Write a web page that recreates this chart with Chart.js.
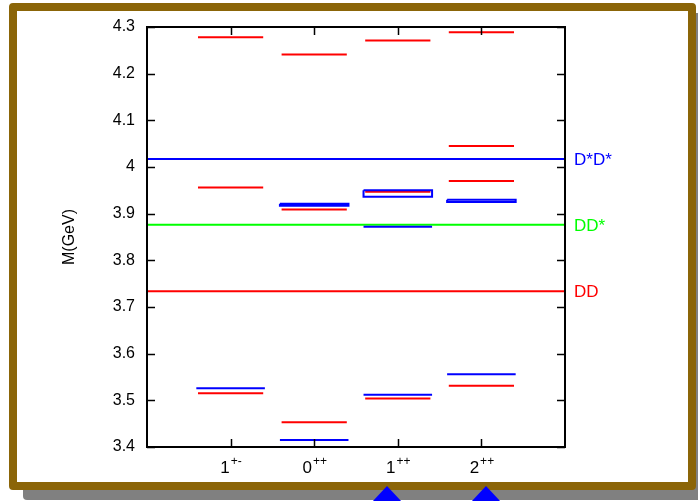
<!DOCTYPE html>
<html>
<head>
<meta charset="utf-8">
<script src="https://cdn.jsdelivr.net/npm/chart.js@4.4.0/dist/chart.umd.min.js"></script>
<style>
  html, body { margin: 0; padding: 0; background: #ffffff; overflow: hidden; }
  #frame {
    position: absolute; left: 9px; top: 3px; width: 687px; height: 487px;
    box-sizing: border-box; border: 8px solid #8b6508; border-radius: 4px;
    background: #ffffff; box-shadow: 14px 10px 0 #808080;
  }
  #chart { position: absolute; left: 0; top: 0; z-index: 1; }
  .tri {
    position: absolute; top: 486px; width: 0; height: 0; z-index: 2;
    border-left: 15px solid transparent; border-right: 15px solid transparent;
    border-bottom: 16px solid #0000ff;
  }
</style>
</head>
<body>
<div id="frame"></div>
<canvas id="chart" width="698" height="501"></canvas>
<div class="tri" style="left:372px"></div>
<div class="tri" style="left:471px"></div>
<script>
// categories (J^PC), drawn at x = 1..4
const categories = ['1+-', '0++', '1++', '2++'];
const labelBase = ['1', '0', '1', '2'];
const labelSup = ['+-', '++', '++', '++'];

// red levels per category (GeV)
const redLevels = [
    [4.278, 3.956, 3.515],
    [4.241, 3.909, 3.453],
    [4.271, 3.947, 3.504],
    [4.289, 4.045, 3.970, 3.531]
];
// blue levels per category (GeV)
const blueLevels = [
    [3.526],
    [3.415],
    [3.872, 3.512],
    [3.556]
];
// blue boxes (top, bottom) per category
const blueBoxes = [
    [],
    [[3.921, 3.917]],
    [[3.950, 3.936]],
    [[3.930, 3.925]]
];

// thresholds
const thresholdNames = ['DD', 'DD*', 'D*D*'];
const thresholdValues = [3.734, 3.876, 4.017];
const thresholdColors = ['#ff0000', '#00ff00', '#0000ff'];

const yTicks = [3.4, 3.5, 3.6, 3.7, 3.8, 3.9, 4.0, 4.1, 4.2, 4.3];

const RED = '#ff0000', BLUE = '#0000ff';
const redHalf = 0.39, blueHalf = 0.41;

const datasets = [];
function seg(x, y, half, color) {
    datasets.push({
        data: [{x: x - half, y: y}, {x: x + half, y: y}],
        borderColor: color, borderWidth: 2, showLine: true,
        pointRadius: 0, fill: false
    });
}
categories.forEach(function(c, i) {
    const x = i + 1;
    blueBoxes[i].forEach(function(b) {
        datasets.push({
            data: [{x: x - blueHalf, y: b[0]}, {x: x + blueHalf, y: b[0]},
                   {x: x + blueHalf, y: b[1]}, {x: x - blueHalf, y: b[1]},
                   {x: x - blueHalf, y: b[0]}],
            borderColor: BLUE, borderWidth: 2, showLine: true,
            pointRadius: 0, fill: false
        });
    });
    blueLevels[i].forEach(function(v) { seg(x, v, blueHalf, BLUE); });
    redLevels[i].forEach(function(v) { seg(x, v, redHalf, RED); });
});
thresholdValues.forEach(function(v, i) {
    datasets.push({
        data: [{x: 0, y: v}, {x: 5, y: v}],
        borderColor: thresholdColors[i], borderWidth: 2, showLine: true,
        pointRadius: 0, fill: false
    });
});

const FONT = "'Liberation Sans', Arial, sans-serif";

const framePlugin = {
    id: 'framePlugin',
    afterDraw(chart) {
        const ctx = chart.ctx;
        const a = chart.chartArea;
        const xs = chart.scales.x, ys = chart.scales.y;
        ctx.save();
        ctx.strokeStyle = '#000';
        ctx.lineWidth = 2;
        ctx.strokeRect(a.left, a.top, a.right - a.left, a.bottom - a.top);
        // inner ticks
        ctx.lineWidth = 1.5;
        ctx.beginPath();
        yTicks.forEach(function(v) {
            const py = Math.round(ys.getPixelForValue(v)) + 0.5;
            ctx.moveTo(a.left, py); ctx.lineTo(a.left + 8, py);
            ctx.moveTo(a.right, py); ctx.lineTo(a.right - 8, py);
        });
        categories.forEach(function(c, i) {
            const px = Math.round(xs.getPixelForValue(i + 1)) + 0.5;
            ctx.moveTo(px, a.bottom); ctx.lineTo(px, a.bottom - 8);
            ctx.moveTo(px, a.top); ctx.lineTo(px, a.top + 8);
        });
        ctx.stroke();

        // x labels with superscripts
        ctx.fillStyle = '#000';
        ctx.textBaseline = 'alphabetic';
        ctx.textAlign = 'left';
        categories.forEach(function(c, i) {
            const px = xs.getPixelForValue(i + 1);
            ctx.font = '17px ' + FONT;
            const wb = ctx.measureText(labelBase[i]).width;
            ctx.font = '12px ' + FONT;
            const ws = ctx.measureText(labelSup[i]).width;
            const x0 = px - (wb + ws) / 2;
            ctx.font = '17px ' + FONT;
            ctx.fillText(labelBase[i], x0, 473);
            ctx.font = '12px ' + FONT;
            ctx.fillText(labelSup[i], x0 + wb + 1, 465);
        });

        // threshold labels
        ctx.font = '17px ' + FONT;
        ctx.textBaseline = 'middle';
        thresholdValues.forEach(function(v, i) {
            ctx.fillStyle = thresholdColors[i];
            ctx.fillText(thresholdNames[i], 574, ys.getPixelForValue(v) + 1);
        });

        // y title
        ctx.fillStyle = '#000';
        ctx.font = '16px ' + FONT;
        ctx.textAlign = 'center';
        ctx.translate(70, (a.top + a.bottom) / 2);
        ctx.rotate(-Math.PI / 2);
        ctx.fillText('M(GeV)', 0, 0);
        ctx.restore();
    }
};

new Chart(document.getElementById('chart').getContext('2d'), {
    type: 'scatter',
    data: { datasets: datasets },
    options: {
        responsive: false,
        animation: false,
        layout: { padding: { left: 107, right: 133, top: 27, bottom: 54 } },
        plugins: { legend: { display: false }, tooltip: { enabled: false } },
        scales: {
            x: {
                type: 'linear', min: 0, max: 5,
                grid: { display: false, drawTicks: false },
                border: { display: false },
                ticks: { display: false },
                afterFit: function(s) { s.height = 0; }
            },
            y: {
                type: 'linear', min: 3.4, max: 4.3,
                grid: { display: false, drawTicks: false },
                border: { display: false },
                afterFit: function(s) { s.width = 40; },
                afterBuildTicks: function(s) {
                    s.ticks = yTicks.map(function(v) { return {value: v}; });
                },
                ticks: {
                    color: '#000', padding: 12,
                    font: { size: 16, family: FONT },
                    callback: function(v) { return String(Math.round(v * 10) / 10); }
                }
            }
        }
    },
    plugins: [framePlugin]
});
</script>
</body>
</html>
